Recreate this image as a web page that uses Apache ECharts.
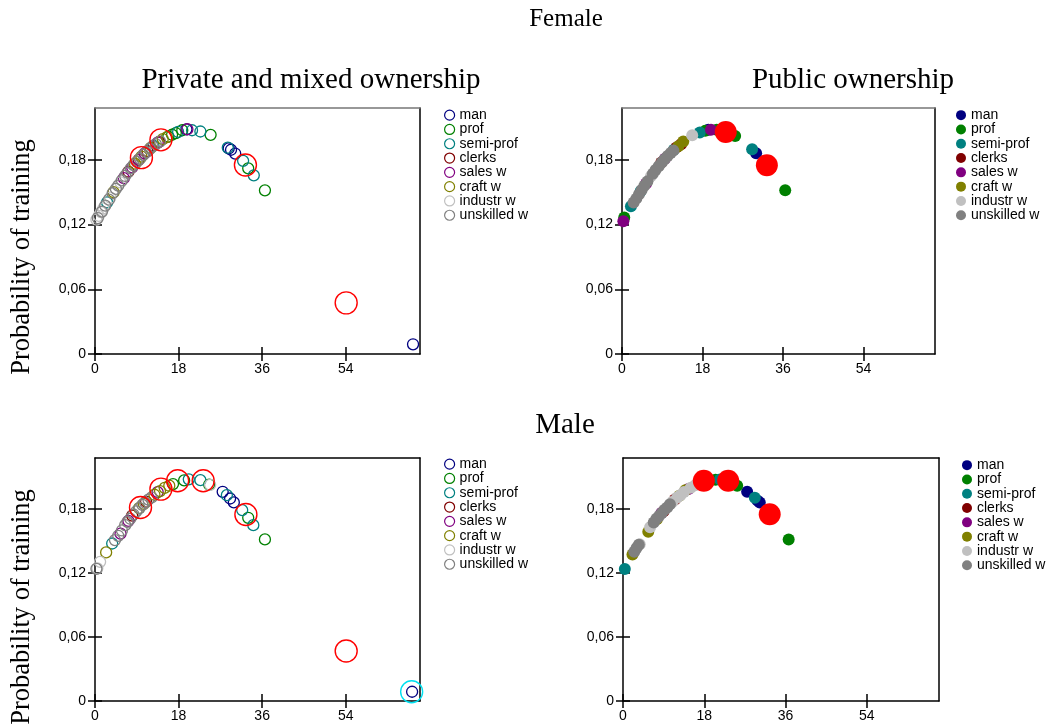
<!DOCTYPE html>
<html>
<head>
<meta charset="utf-8">
<title>Probability of training</title>
<script src="https://cdn.jsdelivr.net/npm/echarts@6/dist/echarts.min.js"></script>
<style>
  html, body { margin: 0; padding: 0; background: #fff; }
  #chart { width: 1048px; height: 726px; }
</style>
</head>
<body>
<div id="chart"></div>
<script>
// Occupation groups and their colours
const groupNames = ['man', 'prof', 'semi-prof', 'clerks', 'sales w', 'craft w', 'industr w', 'unskilled w'];
const groupColors = ['#000080', '#008000', '#008080', '#800000', '#800080', '#808000', '#c0c0c0', '#808080'];

// Axis ticks
const xTicks = [0, 18, 36, 54];
const yTicks = [0, 0.06, 0.12, 0.18];

// Female, private and mixed ownership: [x, probability]
const fpMan = [[19.7,0.2082],[28.8,0.1905],[29.3,0.1893],[30.2,0.1858],[68.5,0.0090]];
const fpProf = [[15.8,0.2015],[16.6,0.2032],[17.4,0.2048],[18.8,0.2074],[24.9,0.2031],[33.0,0.1721],[36.6,0.1517]];
const fpSemi = [[2.6,0.1405],[12.6,0.1930],[17.9,0.2058],[20.9,0.2074],[22.7,0.2062],[28.6,0.1912],[31.9,0.1790],[34.2,0.1656]];
const fpClerks = [[7.2,0.1690],[9.4,0.1800],[11.3,0.1880],[13.8,0.1965]];
const fpSales = [[6.2,0.1630],[8.0,0.1730],[10.7,0.1860],[13.5,0.1960],[19.9,0.2083]];
const fpCraft = [[4.0,0.1500],[8.6,0.1765],[10.0,0.1830],[12.0,0.1910],[14.6,0.1992],[15.5,0.2010]];
const fpIndustr = [[0.3,0.1245],[0.8,0.1280],[1.3,0.1315],[1.8,0.1350],[3.3,0.1450],[5.5,0.1590]];
const fpUnskilled = [[0.6,0.1260],[1.5,0.1320],[2.2,0.1375],[3.0,0.1430],[3.8,0.1490],[4.5,0.1530],[5.0,0.1560],[5.8,0.1610],[6.5,0.1650],[7.0,0.1680],[7.7,0.1720],[8.3,0.1750],[9.0,0.1780],[9.7,0.1810],[10.4,0.1845],[11.0,0.1870],[11.8,0.1902],[12.4,0.1925],[13.1,0.1945],[14.0,0.1970]];
const fpRed = [[10.0,0.1820],[14.2,0.1985],[32.4,0.1752],[54.1,0.0474]];

// Female, public ownership
const fuMan = [[19.3,0.2078],[30.0,0.1860]];
const fuProf = [[0.5,0.1265],[18.6,0.2068],[21.2,0.2078],[25.3,0.2020],[36.5,0.1518]];
const fuSemi = [[2.0,0.1370],[4.2,0.1510],[11.6,0.1892],[17.4,0.2053],[29.1,0.1898]];
const fuClerks = [[8.8,0.1775],[12.2,0.1915],[13.2,0.1945]];
const fuSales = [[0.3,0.1230],[5.4,0.1580],[9.6,0.1810],[19.9,0.2078]];
const fuCraft = [[12.6,0.1925],[13.7,0.1970]];
const fuIndustr = [[6.5,0.1650],[15.7,0.2028]];
const fuUnskilled = [[2.6,0.1405],[3.2,0.1440],[3.8,0.1480],[4.4,0.1520],[5.0,0.1560],[5.7,0.1600],[6.9,0.1670],[7.5,0.1705],[8.2,0.1740],[8.9,0.1775],[9.5,0.1805],[10.2,0.1835],[10.9,0.1862],[11.5,0.1885]];
const fuRed = [[23.2,0.2057],[32.4,0.1750]];

// Male, private and mixed ownership
const mpMan = [[27.5,0.1963],[29.1,0.1900],[29.9,0.1863],[68.3,0.0087]];
const mpProf = [[16.8,0.2035],[19.2,0.2070],[24.6,0.2031],[33.0,0.1719],[36.6,0.1516]];
const mpSemi = [[3.7,0.1478],[20.2,0.2080],[22.7,0.2072],[28.4,0.1931],[31.7,0.1791],[34.1,0.1650]];
const mpClerks = [[8.0,0.1740],[11.0,0.1870]];
const mpSales = [[5.5,0.1570],[7.2,0.1690],[13.5,0.1960]];
const mpCraft = [[2.4,0.1394],[9.5,0.1810],[10.5,0.1850],[12.8,0.1935],[14.0,0.1970],[15.0,0.2000],[16.0,0.2020]];
const mpIndustr = [[0.5,0.1245],[1.1,0.1306],[24.8,0.2028]];
const mpUnskilled = [[0.3,0.1240],[4.3,0.1510],[5.0,0.1550],[5.8,0.1600],[6.5,0.1650],[7.0,0.1680],[7.6,0.1710],[8.3,0.1750],[8.9,0.1780],[9.6,0.1810],[10.2,0.1840],[10.8,0.1860],[11.5,0.1890],[12.2,0.1910]];
const mpRed = [[9.8,0.1816],[14.2,0.1988],[17.8,0.2066],[23.3,0.2066],[32.5,0.1750],[54.1,0.0469]];
const mpCyan = [[68.2,0.0087]];

// Male, public ownership
const muMan = [[27.5,0.1963],[29.8,0.1880],[30.3,0.1863]];
const muProf = [[20.5,0.2075],[25.3,0.2019],[36.7,0.1516]];
const muSemi = [[0.4,0.1238],[21.5,0.2078],[29.2,0.1906]];
const muClerks = [[9.0,0.1780],[11.5,0.1890]];
const muSales = [[8.5,0.1765],[14.5,0.1990]];
const muCraft = [[2.1,0.1375],[5.6,0.1588],[7.5,0.1705],[12.5,0.1925],[13.8,0.1978]];
const muIndustr = [[3.7,0.1470],[6.0,0.1630],[11.0,0.1870],[12.0,0.1910],[12.7,0.1931],[13.5,0.1960],[15.0,0.2000],[16.0,0.2025]];
const muUnskilled = [[2.5,0.1400],[3.0,0.1435],[3.5,0.1465],[6.8,0.1675],[7.4,0.1710],[8.0,0.1735],[8.6,0.1765],[9.2,0.1795],[9.8,0.1815],[10.4,0.1845]];
const muRed = [[17.9,0.2066],[23.3,0.2066],[32.5,0.1753]];

const X_MAX = 70;
const Y_MAX = 0.228;

const panels = [
  { grid: { left: 95, top: 108, width: 325, height: 246 }, filled: false, topLine: '#777',
    groups: [fpMan, fpProf, fpSemi, fpClerks, fpSales, fpCraft, fpIndustr, fpUnskilled],
    extra: [{ data: fpRed, color: '#ff0000' }], legend: { left: 444, top: 108 } },
  { grid: { left: 622, top: 108, width: 313, height: 246 }, filled: true, topLine: '#777',
    groups: [fuMan, fuProf, fuSemi, fuClerks, fuSales, fuCraft, fuIndustr, fuUnskilled],
    extra: [{ data: fuRed, color: '#ff0000' }], legend: { left: 956, top: 108 } },
  { grid: { left: 95, top: 458, width: 325, height: 243 }, filled: false, topLine: '#000',
    groups: [mpMan, mpProf, mpSemi, mpClerks, mpSales, mpCraft, mpIndustr, mpUnskilled],
    extra: [{ data: mpRed, color: '#ff0000' }, { data: mpCyan, color: '#00e0f0' }], legend: { left: 444, top: 457 } },
  { grid: { left: 623, top: 458, width: 316, height: 243 }, filled: true, topLine: '#000',
    groups: [muMan, muProf, muSemi, muClerks, muSales, muCraft, muIndustr, muUnskilled],
    extra: [{ data: muRed, color: '#ff0000' }], legend: { left: 962, top: 458 } }
];

const sansFont = '"Liberation Sans", Arial, sans-serif';
const serifFont = '"Liberation Serif", "Times New Roman", serif';
const fmtY = v => (v === 0 ? '0' : v.toFixed(2).replace('.', ','));

const grids = [], xAxes = [], yAxes = [], series = [], legends = [];

panels.forEach((p, pi) => {
  grids.push(Object.assign({ show: false, containLabel: false }, p.grid));
  const base = { gridIndex: pi, type: 'value', min: 0, splitLine: { show: false } };
  // main x axis: line, outer ticks, labels
  xAxes.push(Object.assign({}, base, {
    max: X_MAX, interval: 18, position: 'bottom',
    axisLine: { show: true, onZero: false, lineStyle: { color: '#000', width: 1.5 } },
    axisTick: { show: true, inside: false, length: 7, customValues: xTicks, lineStyle: { color: '#000', width: 1.5 } },
    axisLabel: { show: true, customValues: xTicks, margin: 8, color: '#000', fontFamily: sansFont, fontSize: 14 }
  }));
  // inner x ticks
  xAxes.push(Object.assign({}, base, {
    max: X_MAX, interval: 18, position: 'bottom',
    axisLine: { show: false, onZero: false },
    axisTick: { show: true, inside: true, length: 7, customValues: xTicks, lineStyle: { color: '#000', width: 1.5 } },
    axisLabel: { show: false }
  }));
  // top frame line
  xAxes.push(Object.assign({}, base, {
    max: X_MAX, position: 'top',
    axisLine: { show: true, onZero: false, lineStyle: { color: p.topLine, width: 1.5 } },
    axisTick: { show: false }, axisLabel: { show: false }
  }));
  // main y axis
  yAxes.push(Object.assign({}, base, {
    max: Y_MAX, interval: 0.06, position: 'left',
    axisLine: { show: true, onZero: false, lineStyle: { color: '#000', width: 1.5 } },
    axisTick: { show: true, inside: false, length: 7, customValues: yTicks, lineStyle: { color: '#000', width: 1.5 } },
    axisLabel: { show: true, customValues: yTicks, margin: 9, color: '#000', fontFamily: sansFont, fontSize: 14, formatter: fmtY }
  }));
  // inner y ticks
  yAxes.push(Object.assign({}, base, {
    max: Y_MAX, interval: 0.06, position: 'left',
    axisLine: { show: false, onZero: false },
    axisTick: { show: true, inside: true, length: 7, customValues: yTicks, lineStyle: { color: '#000', width: 1.5 } },
    axisLabel: { show: false }
  }));
  // right frame line
  yAxes.push(Object.assign({}, base, {
    max: Y_MAX, position: 'right',
    axisLine: { show: true, onZero: false, lineStyle: { color: '#000', width: 1.5 } },
    axisTick: { show: false }, axisLabel: { show: false }
  }));

  p.groups.forEach((data, gi) => {
    const c = groupColors[gi];
    series.push({
      type: 'scatter', name: groupNames[gi], xAxisIndex: pi * 3, yAxisIndex: pi * 3,
      data: data, symbol: 'circle', symbolSize: p.filled ? 12 : 11, silent: true,
      itemStyle: p.filled ? { color: c, opacity: 1 } : { color: 'rgba(0,0,0,0)', borderColor: c, borderWidth: 1.3, opacity: 1 },
      emphasis: { disabled: true }
    });
  });
  p.extra.forEach(ex => {
    series.push({
      type: 'scatter', name: '', xAxisIndex: pi * 3, yAxisIndex: pi * 3,
      data: ex.data, symbol: 'circle', symbolSize: 22, silent: true, clip: false,
      itemStyle: p.filled ? { color: ex.color, opacity: 1 } : { color: 'rgba(0,0,0,0)', borderColor: ex.color, borderWidth: 1.4, opacity: 1 },
      emphasis: { disabled: true }
    });
  });

  legends.push({
    orient: 'vertical', left: p.legend.left, top: p.legend.top, padding: 0,
    itemWidth: 10, itemHeight: 10, itemGap: 0, selectedMode: false,
    textStyle: { fontFamily: sansFont, fontSize: 14, color: '#000', lineHeight: 14.3 },
    data: groupNames.map((n, gi) => ({
      name: n, icon: 'circle',
      itemStyle: p.filled
        ? { color: groupColors[gi], borderWidth: 0 }
        : { color: '#fff', borderColor: groupColors[gi], borderWidth: 1.2 }
    }))
  });
});

function label(text, x, y, size, rotation) {
  return {
    type: 'text', x: x, y: y, rotation: rotation || 0, silent: true,
    style: { text: text, fill: '#000', font: size + 'px ' + serifFont, textAlign: 'center', textVerticalAlign: 'middle' }
  };
}

const option = {
  animation: false,
  backgroundColor: '#fff',
  grid: grids,
  xAxis: xAxes,
  yAxis: yAxes,
  legend: legends,
  series: series,
  graphic: [
    label('Female', 566, 19, 25),
    label('Private and mixed ownership', 311, 80, 29),
    label('Public ownership', 853, 80, 29),
    label('Male', 565, 425, 29),
    label('Probability of training', 22, 257, 26.5, Math.PI / 2),
    label('Probability of training', 22, 607, 26.5, Math.PI / 2)
  ]
};

const chart = echarts.init(document.getElementById('chart'), null, { renderer: 'canvas' });
chart.setOption(option);
</script>
</body>
</html>
